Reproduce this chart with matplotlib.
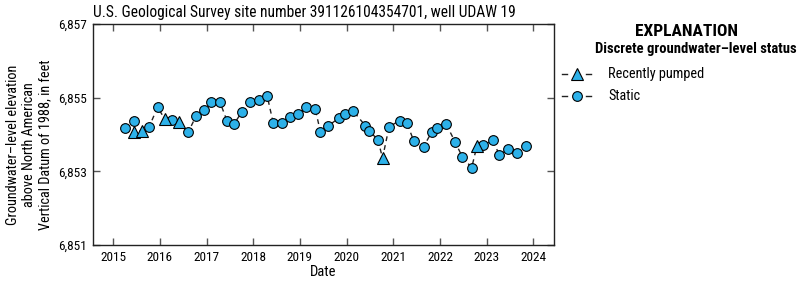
import matplotlib
matplotlib.use("Agg")
import matplotlib.pyplot as plt
from matplotlib.lines import Line2D
from matplotlib.ticker import FuncFormatter

plt.rcParams['font.family'] = ['Roboto Condensed', 'Archivo Narrow', 'Liberation Sans', 'DejaVu Sans']

# Decimal years and levels (ft)
dates = [2015.25, 2015.44, 2015.45, 2015.62, 2015.77, 2015.95, 2016.11, 2016.26, 2016.41, 2016.61,
         2016.77, 2016.94, 2017.09, 2017.29, 2017.44, 2017.59, 2017.76, 2017.93, 2018.12, 2018.30,
         2018.43, 2018.61, 2018.79, 2018.96, 2019.13, 2019.33, 2019.44, 2019.61, 2019.84, 2019.96,
         2020.14, 2020.40, 2020.49, 2020.67, 2020.77, 2020.91, 2021.14, 2021.29, 2021.44, 2021.65,
         2021.82, 2021.94, 2022.13, 2022.32, 2022.48, 2022.68, 2022.79, 2022.92, 2023.14, 2023.27,
         2023.46, 2023.66, 2023.84]
levels = [6854.18, 6854.37, 6854.08, 6854.10, 6854.21, 6854.74, 6854.41, 6854.39, 6854.35, 6854.07,
          6854.49, 6854.67, 6854.87, 6854.87, 6854.36, 6854.29, 6854.62, 6854.89, 6854.93, 6855.04,
          6854.30, 6854.32, 6854.48, 6854.55, 6854.74, 6854.68, 6854.07, 6854.24, 6854.45, 6854.55,
          6854.64, 6854.24, 6854.09, 6853.86, 6853.36, 6854.21, 6854.38, 6854.32, 6853.82, 6853.67,
          6854.06, 6854.17, 6854.29, 6853.81, 6853.39, 6853.10, 6853.68, 6853.71, 6853.84, 6853.44,
          6853.60, 6853.49, 6853.68]
status = ['S', 'S', 'P', 'P', 'S', 'S', 'P', 'S', 'P', 'S',
          'S', 'S', 'S', 'S', 'S', 'S', 'S', 'S', 'S', 'S',
          'S', 'S', 'S', 'S', 'S', 'S', 'S', 'S', 'S', 'S',
          'S', 'S', 'S', 'S', 'P', 'S', 'S', 'S', 'S', 'S',
          'S', 'S', 'S', 'S', 'S', 'S', 'P', 'S', 'S', 'S',
          'S', 'S', 'S']
year_ticks = list(range(2015, 2025))
level_ticks = [6851, 6853, 6855, 6857]

color = '#2DB1E9'
fig = plt.figure(figsize=(7.97, 2.84), dpi=100)
ax = fig.add_axes([0.1163, 0.1373, 0.5792, 0.7782])

ax.plot(dates, levels, linestyle=(0, (3.5, 3)), color='#222222', lw=1.0, zorder=2)
sx = [d for d, s in zip(dates, status) if s == 'S']
sy = [v for v, s in zip(levels, status) if s == 'S']
px = [d for d, s in zip(dates, status) if s == 'P']
py = [v for v, s in zip(levels, status) if s == 'P']
ax.plot(sx, sy, 'o', ms=7, mfc=color, mec='black', mew=0.8, zorder=3)
ax.plot(px, py, '^', ms=9, mfc=color, mec='black', mew=0.8, zorder=3)

ax.set_xlim(2014.56, 2024.45)
ax.set_ylim(6851, 6857)
ax.set_xticks(year_ticks)
ax.set_yticks(level_ticks)
ax.yaxis.set_major_formatter(FuncFormatter(lambda v, p: f"{v:,.0f}"))
ax.tick_params(direction='in', length=5, width=1, colors='#555555', labelcolor='black',
               labelsize=9.5, top=True, right=True, pad=4)
for sp in ax.spines.values():
    sp.set_color('#222222')
    sp.set_linewidth(1.0)

ax.set_xlabel('Date', fontsize=10.5, labelpad=1)
ax.set_title('U.S. Geological Survey site number 391126104354701, well UDAW 19',
             fontsize=11.2, pad=5, loc='left')

W, H = 797, 284
def fx(x): return x / W
def fy(y): return 1 - y / H

fig.text(fx(29), fy(145), 'Groundwater–level elevation\nabove North American\nVertical Datum of 1988, in feet',
         fontsize=10.3, rotation=90, ha='center', va='center', multialignment='center', linespacing=1.2)

# Explanation
fig.text(fx(687), fy(31), 'EXPLANATION', fontsize=12.5, fontweight='bold', ha='center', va='center')
fig.text(fx(797), fy(49.5), 'Discrete groundwater–level status', fontsize=10.5, fontweight='bold',
         ha='right', va='center')
for yy, mk, ms, lab in [(74, '^', 9, 'Recently pumped'), (96, 'o', 7, 'Static')]:
    for x0, x1 in [(562, 567), (586, 591)]:
        fig.add_artist(Line2D([fx(x0), fx(x1)], [fy(yy), fy(yy)], transform=fig.transFigure,
                              color='#222222', lw=1.0))
    fig.add_artist(Line2D([fx(576.5)], [fy(yy)], transform=fig.transFigure, marker=mk, ms=ms,
                          mfc=color, mec='black', mew=0.8, linestyle='none'))
    fig.text(fx(608), fy(yy), lab, fontsize=10.3, ha='left', va='center')

fig.savefig('out.png', dpi=100)
